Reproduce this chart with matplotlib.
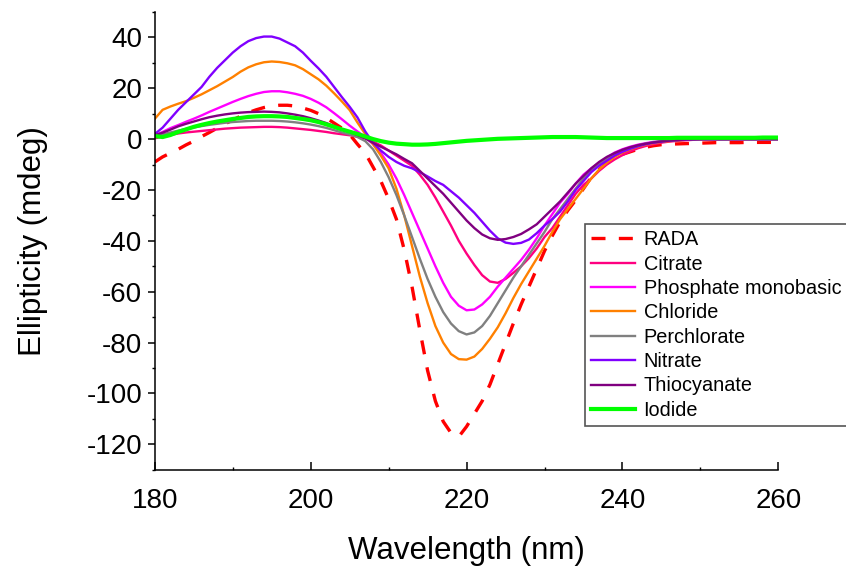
import numpy as np
import matplotlib
matplotlib.use("Agg")
import matplotlib.pyplot as plt
from matplotlib.ticker import MultipleLocator

plt.rcParams['font.family'] = ['Liberation Sans', 'DejaVu Sans']
plt.rcParams['axes.unicode_minus'] = False

# wavelength grid (nm), 1 nm step
wavelength = np.arange(180, 261)

rada = [-9, -7, -5.5, -4, -2.3, -0.8, 1, 2.6, 4.3, 6, 7.5, 9, 10.4, 11.5, 12.4, 13, 13.3, 13.3, 13, 12.2,
        11.3, 10, 8.3, 6.3, 4.3, 1.8, -2, -5.5, -11, -16.5, -23.5, -31.5, -43.5, -58, -75, -91, -103, -111, -115.5, -117,
        -113, -108, -103, -96.5, -88.5, -80.5, -72.5, -65, -58, -51, -44, -38, -32.5, -28, -24, -19.5, -15, -12, -9.5, -7.5,
        -6, -5, -4, -3.2, -2.6, -2.2, -2, -1.9, -1.8, -1.7, -1.6, -1.5, -1.4, -1.4, -1.4, -1.4, -1.3, -1.3, -1.3, -1.3, -1.3]

citrate = [0.3, 1, 1.6, 2.2, 2.6, 2.9, 3.2, 3.5, 3.8, 4.1, 4.3, 4.5, 4.6, 4.7, 4.8, 4.8, 4.7, 4.5, 4.2, 3.9,
           3.6, 3.2, 2.8, 2.3, 1.9, 1.5, 1, 0.3, -1, -2.5, -4.5, -6.5, -8.5, -10.5, -14, -18, -23, -28.5, -34, -40,
           -45, -49.5, -53.5, -56, -56.5, -55, -52.6, -50, -46.8, -43, -38.5, -35, -30.5, -26, -21.5, -18, -15.5, -12.5, -10, -8,
           -6.3, -4.8, -3.6, -2.7, -2, -1.4, -1, -0.7, -0.5, -0.3, -0.2, -0.1, -0.1, 0, 0, 0, 0, 0, 0, 0, 0]

phosphate = [1.5, 2.8, 4.3, 5.5, 6.8, 8, 9.3, 10.7, 12, 13.3, 14.6, 15.8, 16.9, 17.8, 18.5, 18.8, 18.8, 18.4, 17.8, 17,
             15.8, 14.3, 12.5, 10.2, 7.8, 5.3, 3, 0.8, -2, -5.5, -10, -15.5, -22, -29, -36, -43, -50, -56.5, -62, -65.5,
             -67.3, -67, -65, -62, -58, -54.5, -51, -47.5, -43.5, -39, -34, -29.5, -25, -21.5, -17.5, -14, -11.5, -9.3, -7.3, -5.3,
             -4, -3, -2.2, -1.6, -1.1, -0.8, -0.5, -0.3, -0.2, -0.1, 0, 0, 0, 0, 0, 0, 0, 0, 0, 0, 0]

chloride = [8, 11.5, 12.8, 13.9, 14.9, 16.2, 17.6, 19.2, 20.8, 22.6, 24.4, 26.5, 28.2, 29.4, 30.2, 30.5, 30.3, 29.8, 29, 27.5,
            25.5, 23.5, 21, 18, 14.8, 11.4, 6.5, 2, -2, -6.5, -11.5, -19.5, -30, -42, -54, -64.5, -73.5, -80, -84.5, -86.5,
            -86.7, -85.5, -82.5, -78.5, -74, -68.5, -62.5, -57, -52, -47, -42, -36.5, -31.5, -27.5, -23.5, -19.5, -15.5, -12, -9.3, -7,
            -5.3, -4, -3, -2.2, -1.6, -1.1, -0.8, -0.5, -0.3, -0.2, -0.1, 0, 0, 0, 0, 0, 0, 0, 0, 0, 0]

perchlorate = [1, 1.8, 2.6, 3.3, 4, 4.6, 5.1, 5.6, 6, 6.4, 6.7, 6.9, 7.1, 7.2, 7.2, 7.2, 7.1, 6.9, 6.6, 6.2,
               5.7, 5.1, 4.4, 3.5, 2.6, 1.8, 0.8, -0.8, -4, -9, -15, -22, -30, -38.5, -47, -55, -62, -68, -72.5, -75.5,
               -76.8, -76, -73.5, -69.5, -64.5, -59.5, -54.5, -50, -45.5, -41, -36.5, -31.5, -27.5, -23.5, -19.5, -15.5, -12.5, -10, -7.8, -6,
               -4.5, -3.4, -2.5, -1.8, -1.3, -0.9, -0.6, -0.4, -0.3, -0.2, -0.2, -0.2, -0.2, -0.2, -0.2, -0.2, -0.2, -0.2, -0.2, -0.2, -0.2]

nitrate = [2, 4.5, 8, 11.5, 14.5, 17.5, 20.5, 24.5, 28, 31, 34, 36.5, 38.5, 39.7, 40.3, 40.3, 39.5, 38, 36.5, 34,
           30.8, 27.8, 24.5, 20.5, 16.5, 12.7, 8.5, 3, -1.5, -4.5, -7, -9, -10.5, -11.5, -13, -14.7, -16.5, -18, -20.5, -23,
           -26, -29, -32.5, -36, -39, -40.7, -41.2, -40.8, -39.5, -37, -34, -31.5, -28.5, -24.5, -20, -16.5, -13, -10.5, -8.5, -6.5,
           -5, -3.8, -2.8, -2, -1.4, -1, -0.6, -0.4, -0.2, -0.1, 0, 0, 0, 0, 0, 0, 0, 0, 0, 0, 0]

thiocyanate = [1.5, 2.5, 3.7, 5, 6, 6.9, 7.8, 8.6, 9.2, 9.7, 10.1, 10.4, 10.6, 10.7, 10.8, 10.7, 10.5, 10.1, 9.6, 9,
               8.2, 7.3, 6.3, 5.1, 3.9, 2.8, 1.6, 0.3, -1.5, -3, -4.5, -6, -7.8, -9.5, -12.5, -15.5, -18.5, -21.5, -25, -28.5,
               -32, -35, -37.5, -39, -39.6, -39.3, -38.5, -37.3, -35.5, -33.5, -30.5, -27.5, -24.5, -21, -17.5, -14.5, -11.5, -9, -7, -5.5,
               -4.2, -3.2, -2.4, -1.8, -1.3, -0.9, -0.6, -0.4, -0.2, -0.1, 0, 0, 0, 0, 0, 0, 0, 0, 0, 0, 0]

iodide = [1.2, 0.8, 1.6, 2.8, 3.8, 4.8, 5.6, 6.3, 6.9, 7.4, 7.9, 8.3, 8.7, 8.9, 9, 9, 8.9, 8.7, 8.3, 7.9,
          7.4, 6.7, 5.8, 4.8, 3.8, 2.9, 2, 1, 0, -0.8, -1.4, -1.8, -2, -2.2, -2.2, -2.1, -1.9, -1.6, -1.3, -1,
          -0.7, -0.5, -0.3, -0.1, 0.1, 0.2, 0.3, 0.4, 0.5, 0.6, 0.7, 0.8, 0.8, 0.8, 0.8, 0.7, 0.6, 0.5, 0.4, 0.4,
          0.4, 0.4, 0.4, 0.4, 0.4, 0.4, 0.4, 0.5, 0.5, 0.5, 0.5, 0.5, 0.5, 0.5, 0.5, 0.5, 0.5, 0.5, 0.6, 0.6, 0.6]

labels = ["RADA", "Citrate", "Phosphate monobasic", "Chloride", "Perchlorate",
          "Nitrate", "Thiocyanate", "Iodide"]
series = [rada, citrate, phosphate, chloride, perchlorate, nitrate, thiocyanate, iodide]
colors = ["#FF0000", "#FF0080", "#FF00FF", "#FF8000", "#808080", "#8000FF", "#800080", "#00FF00"]

fig = plt.figure(figsize=(8.46, 5.66), dpi=100)
ax = fig.add_axes([0.183, 0.170, 0.737, 0.809])

for lab, y, c in zip(labels, series, colors):
    if lab == "RADA":
        ax.plot(wavelength, y, color=c, lw=2.4, ls=(0, (4.2, 4)), label=lab)
    elif lab == "Iodide":
        ax.plot(wavelength, y, color=c, lw=3.0, label=lab)
    else:
        ax.plot(wavelength, y, color=c, lw=1.7, label=lab)

ax.set_xlim(180, 260)
ax.set_ylim(-130, 50)
ax.xaxis.set_major_locator(MultipleLocator(20))
ax.xaxis.set_minor_locator(MultipleLocator(10))
ax.yaxis.set_minor_locator(MultipleLocator(10))
ax.set_yticks(np.arange(-120, 41, 20))

for s in ["top", "right"]:
    ax.spines[s].set_visible(False)
for s in ["left", "bottom"]:
    ax.spines[s].set_linewidth(1.1)

ax.tick_params(axis="x", which="major", direction="in", length=5.5, width=1.1, pad=13, labelsize=20)
ax.tick_params(axis="x", which="minor", direction="in", length=2.5, width=1.0)
ax.tick_params(axis="y", which="major", direction="out", length=5, width=1.1, pad=4, labelsize=20)
ax.tick_params(axis="y", which="minor", direction="out", length=2.5, width=1.0)

ax.set_xlabel("Wavelength (nm)", fontsize=22.5, labelpad=16)
ax.set_ylabel("Ellipticity (mdeg)", fontsize=22.5, labelpad=28)

leg = ax.legend(loc="upper left", bbox_to_anchor=(0.690, 0.536), borderaxespad=0,
                fontsize=14.3, frameon=True, fancybox=False, framealpha=1,
                handlelength=2.2, handletextpad=0.45, labelspacing=0.27, borderpad=0.3)
leg.get_frame().set_edgecolor("#555555")
leg.get_frame().set_linewidth(1.2)

fig.savefig("out.png", dpi=100)
